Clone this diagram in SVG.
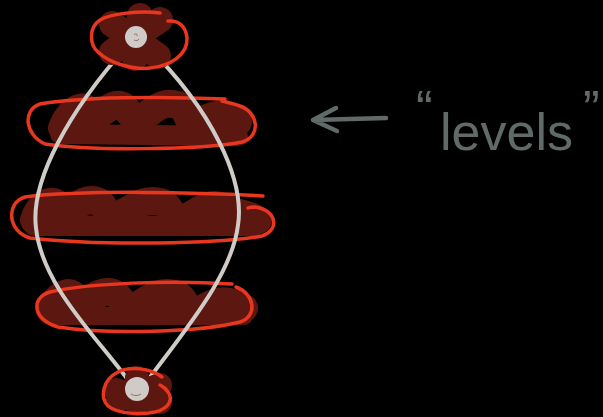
<svg xmlns="http://www.w3.org/2000/svg" width="603" height="417" viewBox="0 0 603 417">
<style>
.fill{fill:none;stroke:#5c1710;stroke-linecap:round;stroke-linejoin:round}
.ring{fill:none;stroke:#e8361f;stroke-width:3.5;stroke-linecap:round;stroke-linejoin:round}
.edge{fill:none;stroke:#cfcbc6;stroke-width:4;stroke-linecap:round}
.dot{fill:#cfcbc6}
.note{fill:none;stroke:#5f6a69;stroke-width:4.5;stroke-linecap:round;stroke-linejoin:round}
.lbl{font-family:"Liberation Sans",Arial,sans-serif;fill:#5f6a69}
</style>
<rect width="603" height="417" fill="#000"/>
<g id="level-1">
<path class="fill" stroke-width="28" d="M62,128 C70,108 88,100 88,115 C88,130 102,108 116,105 C130,102 128,124 142,118 C155,110 162,100 178,105 C192,110 182,128 202,120 C216,114 226,110 238,122"/>
<path class="fill" stroke-width="20" d="M60,134 L238,136"/>
<path class="ring" d="M225,99 C160,96 80,97 40,104 C22,110 25,135 45,144 C90,151 200,150 242,142 C262,136 258,112 240,106 C232,103 226,102 222,101"/>
</g>
<g id="level-2">
<path class="fill" stroke-width="28" d="M34,220 C40,200 58,196 60,210 C62,225 75,200 92,200 C108,200 104,222 120,215 C135,206 145,198 160,202 C176,206 168,225 186,218 C200,210 210,200 225,208 C240,215 245,212 258,220"/>
<path class="fill" stroke-width="20" d="M34,226 L255,226"/>
<path class="ring" d="M263,196 C200,192 80,190 25,197 C5,203 8,232 30,238 C100,246 220,244 262,236 C280,230 277,210 255,207 C252,207 250,207 248,208"/>
</g>
<g id="level-3">
<path class="fill" stroke-width="28" d="M50,310 C58,292 74,288 76,300 C78,314 92,292 108,292 C124,292 120,312 136,306 C150,298 160,290 175,294 C190,298 182,316 200,310 C214,302 224,296 244,308"/>
<path class="fill" stroke-width="18" d="M50,316 L244,316"/>
<path class="ring" d="M232,284 C170,280 90,283 50,292 C30,298 33,320 58,327 C110,335 200,332 240,322 C258,316 255,294 236,287"/>
</g>
<g id="connectors">
<path class="edge" d="M127,46 C70,110 30,180 36,228 C42,285 95,335 128,380"/>
<path class="edge" d="M147,46 C212,110 245,180 238,225 C232,275 185,330 148,380"/>
</g>
<g id="node-top">
<path class="fill" stroke-width="26" d="M112,24 L158,56 M160,20 L112,52 M140,16 L135,58"/>
<circle class="dot" cx="136" cy="37" r="11"/>
<path d="M134,35 c1,-2 4,-1 3,1 M134,40 c2,1 4,1 5,-1" fill="none" stroke="#9a6a64" stroke-width="1"/>
<path class="ring" d="M160,13 C140,10 110,14 100,20 C88,28 90,45 98,52 C110,64 135,70 150,68 C170,66 188,55 187,38 C186,26 178,20 168,21"/>
</g>
<g id="node-bottom">
<path class="fill" stroke-width="24" d="M116,390 L160,402 M118,400 L160,385 M137,378 L137,404"/>
<circle class="dot" cx="137" cy="389" r="12"/>
<path d="M131,394 c3,2 7,2 10,0" fill="none" stroke="#9a6a64" stroke-width="1"/>
<path class="ring" d="M162,377 C150,368 130,366 118,372 C102,380 100,398 108,406 C118,414 140,415 155,412 C168,409 174,400 168,392 C165,387 162,386 160,385"/>
</g>
<g id="annotation">
<path class="note" d="M386,118 L314,120 M336,108 L313,120 L337,131"/>
<text class="lbl"><tspan x="416" y="126" font-size="50">“</tspan><tspan x="440" y="150" font-size="52">levels</tspan><tspan x="583" y="126" font-size="50">”</tspan></text>
</g>
</svg>
